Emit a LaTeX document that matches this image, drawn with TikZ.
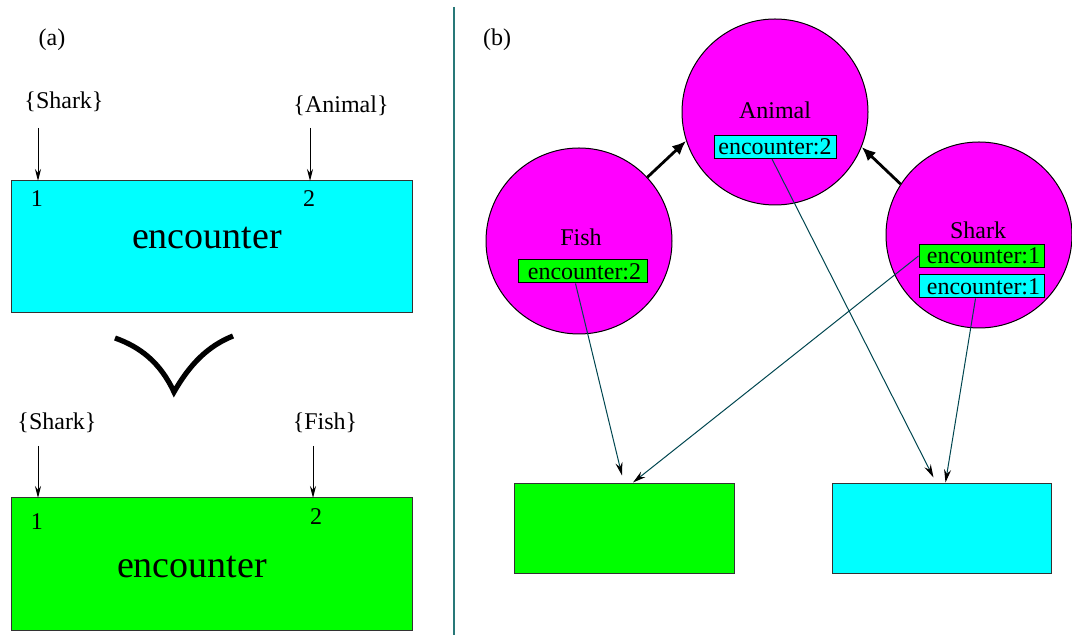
\documentclass[tikz,border=0pt]{standalone}
\usepackage{fontspec}
\setmainfont{Liberation Serif}
\usetikzlibrary{arrows.meta}
\definecolor{mycyan}{RGB}{0,255,255}
\definecolor{mygreen}{RGB}{0,255,0}
\definecolor{mymag}{RGB}{255,0,255}
\definecolor{conncol}{RGB}{0,70,80}
\definecolor{sepcol}{RGB}{40,120,120}
\tikzset{
  smalltext/.style={inner sep=0pt,font=\fontsize{12pt}{14pt}\selectfont},
  bigtext/.style={inner sep=0pt,font=\fontsize{19pt}{22pt}\selectfont},
  magcirc/.style={circle,draw=black,line width=0.5pt,fill=mymag,minimum size=93pt,inner sep=0pt},
  encbox/.style={draw=black,line width=0.5pt,inner sep=0pt,minimum height=11.5pt,font=\fontsize{12pt}{14pt}\selectfont},
  bigrect/.style={draw=black!80,line width=0.5pt,inner sep=0pt},
  conn/.style={draw=conncol,line width=0.5pt,-{Stealth[length=6.5pt,width=3.5pt,black]}},
  inarr/.style={draw=black,line width=0.5pt,-{Stealth[length=6pt,width=3pt]}},
  thickarr/.style={draw=black,line width=1.4pt,-{Latex[length=7pt,width=6pt]}}
}
\begin{document}
\begin{tikzpicture}[x=0.5pt,y=-0.5pt]
\useasboundingbox (0,0) rectangle (1072,635);
% separator
\draw[sepcol,line width=1pt] (454,7) -- (454,635);
% ---------- (a) ----------
\node[smalltext] (la) at (52,40) {(a)};
\node[bigrect,fill=mycyan,minimum width=200.5pt,minimum height=66pt] (crect) at (212,247) {};
\node[bigtext] (enc1) at (207,238) {encounter};
\node[smalltext] (n1a) at (37,199) {1};
\node[smalltext] (n2a) at (309,199) {2};
\node[smalltext] (sharka) at (64,102) {\{Shark\}};
\node[smalltext] (animala) at (341,106) {\{Animal\}};
\coordinate (t1a) at (38,181);
\coordinate (t2a) at (310,181);
\draw[inarr] (38,128) -- (t1a);
\draw[inarr] (310,128) -- (t2a);
% V shape
\draw[line width=2.6pt] (115,338) .. controls (140,347) and (160,362) .. (174,392)
  .. controls (190,364) and (208,346) .. (233,336);
% lower
\node[bigrect,fill=mygreen,minimum width=200.5pt,minimum height=66.5pt] (grecta) at (212,564.5) {};
\node[bigtext] (enc2) at (192,567) {encounter};
\node[smalltext] (n1b) at (37,522) {1};
\node[smalltext] (n2b) at (316,517) {2};
\node[smalltext] (sharkb) at (57,423) {\{Shark\}};
\node[smalltext] (fishb) at (325,423) {\{Fish\}};
\coordinate (t1b) at (38,498);
\coordinate (t2b) at (313,498);
\draw[inarr] (38,446) -- (t1b);
\draw[inarr] (313,446) -- (t2b);
% ---------- (b) ----------
\node[smalltext] (lb) at (497,40) {(b)};
\node[magcirc] (animal) at (775,112) {};
\node[magcirc] (fish) at (579,241) {};
\node[magcirc] (shark) at (979,235) {};
\node[smalltext] (animalt) at (775,110) {Animal};
\node[smalltext] (fisht) at (581,237) {Fish};
\node[smalltext] (sharkt) at (978,230) {Shark};
\node[encbox,fill=mycyan,minimum width=61pt] (abox) at (775,147) {encounter:2};
\node[encbox,fill=mygreen,minimum width=64.5pt] (fbox) at (582.5,271.5) {\,encounter:2};
\node[encbox,fill=mygreen,minimum width=62.5pt] (sbox1) at (981.5,256) {\,encounter:1};
\node[encbox,fill=mycyan,minimum width=62.5pt] (sbox2) at (981.5,286.5) {\,encounter:1};
\draw[thickarr] (fish.43) -- (animal.198);
\draw[thickarr] (shark.147) -- (animal.338);
\node[bigrect,fill=mygreen,minimum width=110pt,minimum height=45pt] (grect) at (624,529) {};
\node[bigrect,fill=mycyan,minimum width=109.5pt,minimum height=45pt] (crectb) at (941.5,529) {};
\draw[conn] ([xshift=-3.5pt]fbox.south) -- ([xshift=-1pt,yshift=4pt]grect.north);
\draw[conn] (sbox1.west) -- ([xshift=4.5pt,yshift=0.5pt]grect.north);
\draw[conn] ([xshift=-1.5pt]abox.south) -- ([xshift=-4pt,yshift=3pt]crectb.north);
\draw[conn] ([xshift=-3pt]sbox2.south) -- ([xshift=2pt,yshift=0.5pt]crectb.north);
\end{tikzpicture}
\end{document}
